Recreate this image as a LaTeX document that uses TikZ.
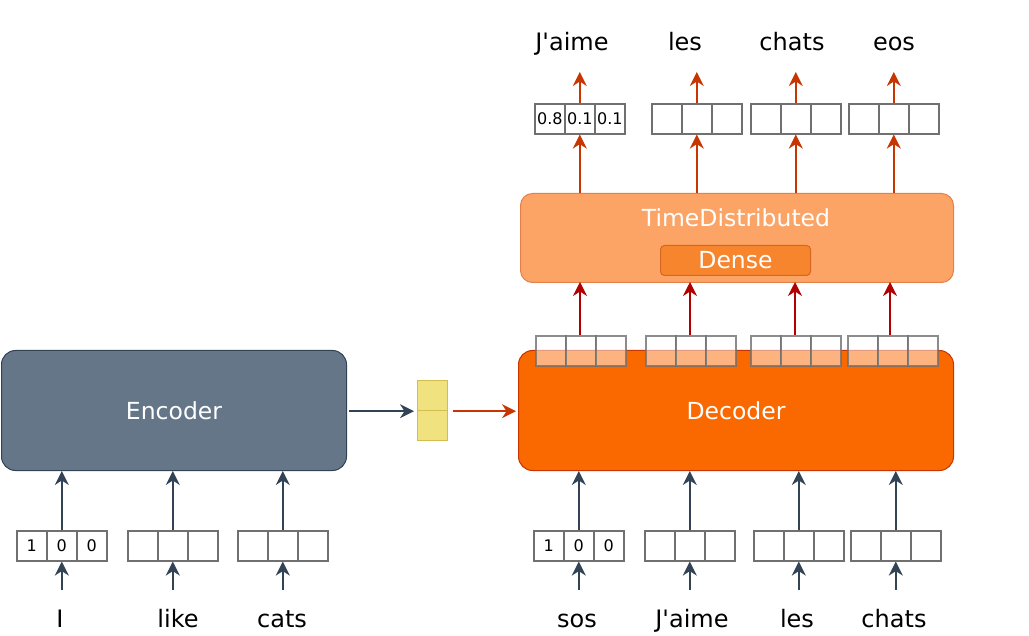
\documentclass[tikz,border=0pt]{standalone}
\usepackage{fontspec}
\setmainfont{DejaVu Sans}
\usetikzlibrary{arrows.meta,calc}
\definecolor{encfill}{HTML}{647687}
\definecolor{encdraw}{HTML}{314354}
\definecolor{decfill}{HTML}{FA6800}
\definecolor{decdraw}{HTML}{C73500}
\definecolor{tdfill}{HTML}{FBA466}
\definecolor{tddraw}{HTML}{E4804A}
\definecolor{densefill}{HTML}{F7852E}
\definecolor{densedraw}{HTML}{D9661E}
\definecolor{ctxfill}{HTML}{F0E27E}
\definecolor{ctxdraw}{HTML}{D2BE50}
\definecolor{cellgray}{HTML}{707070}
\definecolor{darkred}{HTML}{B20000}
\tikzset{
  block/.style={rounded corners=14pt, line width=1pt, inner sep=0pt, anchor=north west, font=\fontsize{23.5}{27}\selectfont, text=white},
  cell/.style={draw=cellgray, line width=1.6pt, minimum width=30pt, minimum height=30pt, inner sep=0pt, anchor=north west, font=\fontsize{16}{18}\selectfont},
  ocell/.style={cell, fill=white, fill opacity=0.5, draw opacity=0.8, text opacity=1},
  word/.style={font=\fontsize{24}{28}\selectfont, text height=17pt, text depth=5pt, inner sep=0pt, anchor=base},
  tip/.style={-{Stealth[length=14pt,width=14pt,inset=4.5pt]}},
  arrs/.style={draw=encdraw, line width=1.6pt, tip},
  arro/.style={draw=decdraw, line width=1.6pt, tip},
  arrd/.style={draw=darkred, line width=1.6pt, tip},
}
\newcommand{\cellrow}[7]{%
  \node[#4] (#1-1) at (#2,#3) {#5};
  \node[#4] (#1-2) at (#2+30,#3) {#6};
  \node[#4] (#1-3) at (#2+60,#3) {#7};}
\begin{document}
\begin{tikzpicture}[x=1pt,y=-1pt]
\useasboundingbox (0,0) rectangle (1029,636);
% blocks
\node[block, fill=encfill, draw=encdraw, minimum width=345pt, minimum height=120pt] (enc) at (1,350) {Encoder};
\node[block, fill=decfill, draw=decdraw, minimum width=435pt, minimum height=120pt] (dec) at (518,350) {Decoder};
\node[block, fill=tdfill, draw=tddraw, minimum width=433pt, minimum height=89pt, rounded corners=12pt] (td) at (520,193) {};
\node[font=\fontsize{23.5}{27}\selectfont, text=white] (tdlabel) at (736,218) {TimeDistributed};
\node[block, fill=densefill, draw=densedraw, minimum width=150pt, minimum height=30pt, rounded corners=4pt] (dense) at (660,245) {Dense};
% context vector
\node[draw=ctxdraw, fill=ctxfill, line width=1.2pt, minimum width=30pt, minimum height=30pt, anchor=north west, inner sep=0pt] (ctxa) at (417,380) {};
\node[draw=ctxdraw, fill=ctxfill, line width=1.2pt, minimum width=30pt, minimum height=30pt, anchor=north west, inner sep=0pt] (ctxb) at (417,410) {};
% encoder inputs
\cellrow{ei1}{16}{530}{cell}{1}{0}{0}
\cellrow{ei2}{127}{530}{cell}{}{}{}
\cellrow{ei3}{237}{530}{cell}{}{}{}
% decoder inputs
\cellrow{di1}{533}{530}{cell}{1}{0}{0}
\cellrow{di2}{644}{530}{cell}{}{}{}
\cellrow{di3}{753}{530}{cell}{}{}{}
\cellrow{di4}{850}{530}{cell}{}{}{}
% decoder outputs
\cellrow{do1}{535}{335}{ocell}{}{}{}
\cellrow{do2}{645}{335}{ocell}{}{}{}
\cellrow{do3}{750}{335}{ocell}{}{}{}
\cellrow{do4}{847}{335}{ocell}{}{}{}
% probability vectors
\cellrow{pv1}{534}{103}{cell}{0.8}{0.1}{0.1}
\cellrow{pv2}{651}{103}{cell}{}{}{}
\cellrow{pv3}{750}{103}{cell}{}{}{}
\cellrow{pv4}{848}{103}{cell}{}{}{}
% words bottom
\node[word] (wI) at (60,627) {I};
\node[word] (wlike) at (178,627) {like};
\node[word] (wcats) at (282,627) {cats};
\node[word] (wsos) at (577,627) {sos};
\node[word] (wjaime) at (692,627) {J\textquotesingle aime};
\node[word] (wles) at (797,627) {les};
\node[word] (wchats) at (894,627) {chats};
% words top
\node[word] (tjaime) at (572,51) {J\textquotesingle aime};
\node[word] (tles) at (685,51) {les};
\node[word] (tchats) at (792,51) {chats};
\node[word] (teos) at (894,51) {eos};
% arrows: words -> input cells
\foreach \w/\c in {wI/ei1-2, wlike/ei2-2, wcats/ei3-2, wsos/di1-2, wjaime/di2-2, wles/di3-2, wchats/di4-2}
  \draw[arrs] ([yshift=20pt]\w.north -| \c.south) -- (\c.south);
% input cells -> encoder / decoder
\foreach \c in {ei1-2, ei2-2, ei3-2}
  \draw[arrs] (\c.north) -- (\c.north |- enc.south);
\foreach \c in {di1-2, di2-2, di3-2, di4-2}
  \draw[arrs] (\c.north) -- (\c.north |- dec.south);
% encoder -> context -> decoder
\draw[arrs, shorten <=2pt, shorten >=3pt] (enc.east |- ctxa.south) -- (ctxa.south west);
\draw[arro, shorten <=5pt, shorten >=2pt] (ctxa.south east) -- (dec.west |- ctxa.south);
% decoder outputs -> TD
\foreach \c/\xx in {do1-2/580, do2-2/690, do3-2/795, do4-2/890}
  \draw[arrd] (\xx,335) -- (\xx,282);
% TD -> prob vectors
\foreach \c in {pv1-2, pv2-2, pv3-2, pv4-2}
  \draw[arro] (\c.south |- td.north) -- (\c.south);
% prob vectors -> words
\foreach \c/\w in {pv1-2/tjaime, pv2-2/tles, pv3-2/tchats, pv4-2/teos}
  \draw[arro] (\c.north) -- (\c.north |- 0,72);
\end{tikzpicture}
\end{document}
